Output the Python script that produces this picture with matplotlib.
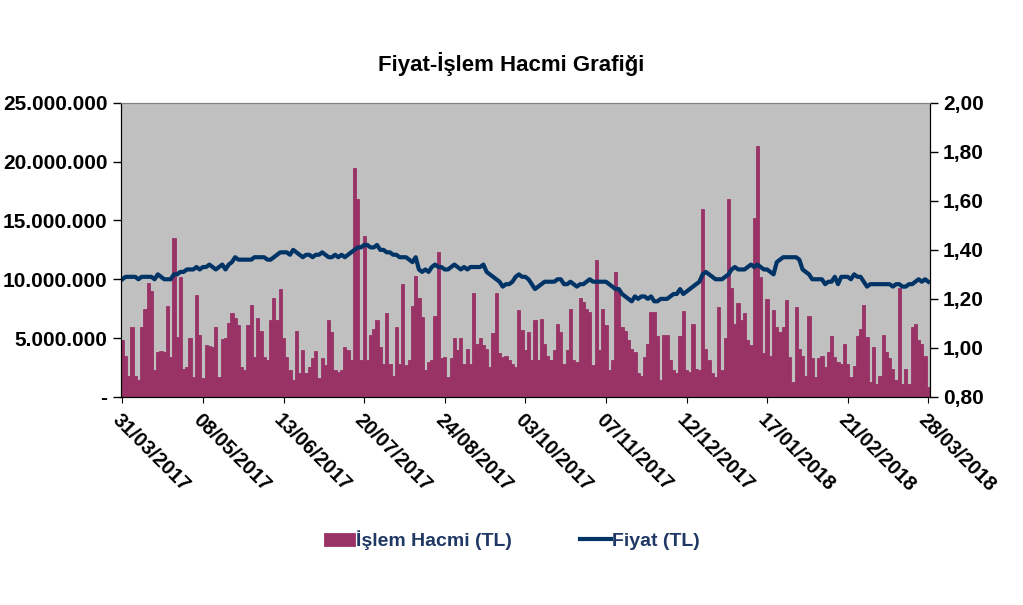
import matplotlib
matplotlib.use("Agg")
import matplotlib.pyplot as plt
from matplotlib.ticker import FuncFormatter, FixedLocator

plt.rcParams['font.family'] = ['Liberation Sans', 'DejaVu Sans']

# Günlük işlem hacmi (milyon TL), 31/03/2017 - 28/03/2018
hacim = [
    4.8, 3.5, 1.8, 5.9, 1.8, 1.4, 5.9, 7.5, 9.7, 9.0, 2.3, 3.8, 3.9, 3.8, 7.7, 3.4, 13.5, 5.1, 10.2, 2.4,
    2.5, 5.0, 1.7, 8.7, 5.3, 1.6, 4.4, 4.3, 4.2, 5.9, 1.7, 4.9, 5.0, 6.3, 7.1, 6.7, 6.1, 2.5, 2.3, 6.1,
    7.8, 3.4, 6.7, 5.6, 3.4, 3.1, 6.5, 8.4, 6.5,
    9.2, 5.0, 3.4, 2.3, 1.4, 5.6, 2.0, 4.0, 2.0, 2.5, 3.3, 3.9, 1.6, 3.3, 2.7, 6.5, 5.5, 2.3, 2.1, 2.3,
    4.2, 4.0, 3.1, 19.5, 16.8, 3.1, 13.7, 3.1, 5.3, 5.8, 6.5, 4.2, 2.8, 7.1, 2.8, 1.8, 5.9, 2.8, 9.6, 2.7,
    3.1, 7.7, 10.3, 8.4, 6.8, 2.3, 3.0, 3.1, 6.9, 12.3, 3.3,
    3.4, 1.7, 3.3, 5.0, 4.0, 5.0, 2.8, 4.1, 2.8, 8.8, 4.5, 5.0, 4.4, 4.1, 2.5, 5.4, 8.8, 3.7, 3.4, 3.5,
    3.1, 2.8, 2.5, 7.4, 5.7, 4.0, 5.5, 3.1, 6.5, 3.1, 6.6, 4.5, 3.5, 3.1, 4.0, 6.2, 5.5, 2.8, 4.0, 7.5,
    3.1, 3.0, 8.4, 8.1, 7.5, 7.2, 2.7, 11.6, 4.0, 7.5,
    6.1, 2.3, 3.1, 10.6, 9.1, 5.9, 5.6, 4.8, 4.1, 3.8, 2.0, 1.8, 3.4, 4.5, 7.2, 7.2, 5.2, 1.4, 5.3, 5.3,
    3.1, 2.3, 2.0, 5.2, 7.3, 2.3, 2.1, 6.2, 2.4, 2.3, 16.0, 4.1, 3.1, 2.0, 1.7, 7.6, 2.3, 5.0, 16.8, 9.3,
    6.2, 8.0, 6.5, 7.1, 4.8, 4.4, 15.2, 21.3, 10.2, 3.7,
    8.3, 3.5, 7.4, 5.9, 5.5, 5.9, 8.2, 3.4, 1.3, 7.6, 4.1, 3.5, 1.8, 6.9, 3.3, 1.7, 3.3, 3.5, 2.5, 3.8,
    5.2, 3.4, 3.0, 2.8, 4.5, 2.8, 1.7, 2.6, 5.2, 5.8, 7.8, 5.1, 1.3, 4.2, 1.1, 1.8, 5.3, 3.8, 3.3, 2.4,
    1.4, 9.3, 1.1, 2.4, 1.1, 5.9, 6.2, 4.8, 4.5, 3.5, 0.8,
]

# Günlük kapanış fiyatı (TL)
fiyat = [
    1.28, 1.29, 1.29, 1.29, 1.29, 1.28, 1.29, 1.29, 1.29, 1.29, 1.28, 1.30, 1.29, 1.28, 1.28, 1.28, 1.30, 1.30, 1.31, 1.31,
    1.32, 1.32, 1.32, 1.33, 1.32, 1.33, 1.33, 1.34, 1.33, 1.32, 1.33, 1.34, 1.32, 1.34, 1.35, 1.37, 1.36, 1.36, 1.36, 1.36,
    1.36, 1.37, 1.37, 1.37, 1.37, 1.36, 1.36, 1.37, 1.38, 1.39,
    1.39, 1.39, 1.38, 1.40, 1.39, 1.38, 1.37, 1.38, 1.38, 1.37, 1.38, 1.38, 1.39, 1.38, 1.37, 1.37, 1.38, 1.37, 1.38, 1.37,
    1.38, 1.39, 1.40, 1.41, 1.41, 1.42, 1.42, 1.41, 1.41, 1.42, 1.40, 1.40, 1.39, 1.39, 1.38, 1.38, 1.37, 1.37, 1.37, 1.36,
    1.35, 1.37, 1.32, 1.31, 1.32, 1.31, 1.33, 1.34, 1.33, 1.33, 1.32,
    1.32, 1.33, 1.34, 1.33, 1.32, 1.33, 1.32, 1.33, 1.33, 1.33, 1.33, 1.34, 1.31, 1.30, 1.29, 1.28, 1.27, 1.25, 1.26, 1.26,
    1.27, 1.29, 1.30, 1.29, 1.29, 1.28, 1.26, 1.24, 1.25, 1.26, 1.27, 1.27, 1.27, 1.27, 1.28, 1.28, 1.26, 1.26, 1.27, 1.26,
    1.25, 1.26, 1.26, 1.27, 1.28, 1.27, 1.27, 1.27, 1.27, 1.27,
    1.26, 1.25, 1.24, 1.24, 1.22, 1.21, 1.20, 1.19, 1.21, 1.20, 1.21, 1.21, 1.20, 1.21, 1.19, 1.19, 1.20, 1.20, 1.20, 1.21,
    1.22, 1.22, 1.24, 1.22, 1.23, 1.24, 1.25, 1.26, 1.27, 1.30, 1.31, 1.30, 1.29, 1.28, 1.28, 1.28, 1.29, 1.30, 1.32, 1.33,
    1.32, 1.32, 1.32, 1.33, 1.34, 1.33, 1.34, 1.33, 1.32, 1.32,
    1.31, 1.30, 1.35, 1.36, 1.37, 1.37, 1.37, 1.37, 1.37, 1.36, 1.32, 1.31, 1.30, 1.28, 1.28, 1.28, 1.28, 1.26, 1.27, 1.27,
    1.29, 1.26, 1.29, 1.29, 1.29, 1.28, 1.30, 1.29, 1.29, 1.27, 1.25, 1.26, 1.26, 1.26, 1.26, 1.26, 1.26, 1.26, 1.25, 1.26,
    1.26, 1.25, 1.25, 1.26, 1.26, 1.27, 1.28, 1.27, 1.28, 1.27,
]

tarih_etiketleri = ['31/03/2017', '08/05/2017', '13/06/2017', '20/07/2017', '24/08/2017', '03/10/2017',
                    '07/11/2017', '12/12/2017', '17/01/2018', '21/02/2018', '28/03/2018']
etiket_adim = 25

gun = list(range(len(hacim)))
hacim_tl = [v * 1e6 for v in hacim]

fig = plt.figure(figsize=(10.23, 6.05), dpi=100)
ax = fig.add_axes([0.118, 0.344, 0.791, 0.486])
ax.set_facecolor('#c0c0c0')

bar_renk = '#993366'
cizgi_renk = '#003366'

bars = ax.bar(gun, hacim_tl, width=1.0, color=bar_renk, edgecolor=bar_renk, linewidth=0.6,
              label='İşlem Hacmi (TL)')
ax.set_ylim(0, 25e6)
ax.set_xlim(-0.5, len(hacim) - 0.5)
ax.yaxis.set_major_locator(FixedLocator([0, 5e6, 10e6, 15e6, 20e6, 25e6]))

def sol_format(v, pos):
    if v == 0:
        return '-'
    return '{:,.0f}'.format(v).replace(',', '.')

ax.yaxis.set_major_formatter(FuncFormatter(sol_format))

ax2 = ax.twinx()
line, = ax2.plot(gun, fiyat, color=cizgi_renk, linewidth=3, label='Fiyat (TL)')
ax2.set_ylim(0.80, 2.00)
ax2.yaxis.set_major_locator(FixedLocator([0.8, 1.0, 1.2, 1.4, 1.6, 1.8, 2.0]))
ax2.yaxis.set_major_formatter(FuncFormatter(lambda v, p: '{:.2f}'.format(v).replace('.', ',')))

konum = [i * etiket_adim for i in range(len(tarih_etiketleri))]
ax.set_xticks(konum)
ax.set_xticklabels(tarih_etiketleri, rotation=-45, ha='left', va='top',
                   rotation_mode='anchor', fontsize=14.5, fontweight='bold')

for a in (ax, ax2):
    a.tick_params(axis='y', labelsize=15, length=6, width=1, direction='out')
    for lab in a.get_yticklabels():
        lab.set_fontweight('bold')
    a.spines['top'].set_color('#808080')
    a.spines['left'].set_color('black')
    a.spines['right'].set_color('black')
    a.spines['bottom'].set_color('black')
ax.tick_params(axis='x', length=4, pad=6)

fig.text(0.5, 0.895, 'Fiyat-İşlem Hacmi Grafiği', ha='center', va='center',
         fontsize=16, fontweight='bold')

leg = fig.legend([bars, line], ['İşlem Hacmi (TL)', 'Fiyat (TL)'], loc='center',
                 bbox_to_anchor=(0.5, 0.107), ncol=2, frameon=False,
                 prop={'size': 14, 'weight': 'bold'}, columnspacing=3.5,
                 handlelength=1.6, handletextpad=0.05)
for t in leg.get_texts():
    t.set_color('#1f3864')

fig.savefig('out.png', dpi=100)
